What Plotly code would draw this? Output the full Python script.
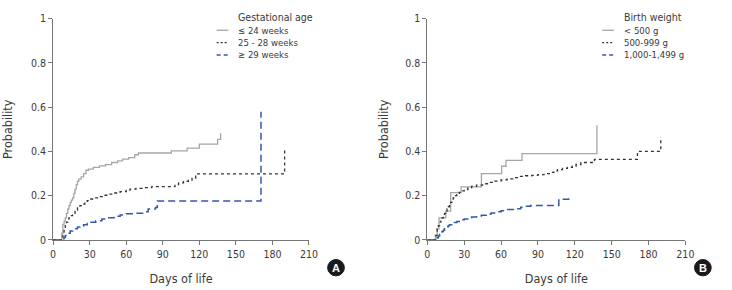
import plotly.graph_objects as go

# ---------------- Data ----------------
# Panel A: Gestational age
ga_le24_days = [0, 7, 8, 9, 10, 11, 12, 13, 14, 15, 16, 17, 18, 19, 20, 21, 23, 25, 27, 29,
                33, 38, 43, 48, 53, 57, 62, 67, 70, 97, 110, 120, 135, 137.5]
ga_le24_prob = [0, 0.03, 0.07, 0.085, 0.10, 0.12, 0.14, 0.155, 0.17, 0.18, 0.19, 0.21, 0.23, 0.25,
                0.265, 0.275, 0.285, 0.30, 0.315, 0.32, 0.328, 0.335, 0.34, 0.35, 0.357, 0.365,
                0.372, 0.385, 0.393, 0.403, 0.415, 0.433, 0.455, 0.482]

ga_25_28_days = [0, 7, 8, 9, 10, 11, 12, 13, 14, 16, 18, 20, 22, 24, 26, 28, 31, 34, 38, 42, 46,
                 50, 55, 60, 63, 68, 75, 81, 100, 103, 107, 111, 114, 117, 190]
ga_25_28_prob = [0, 0.01, 0.03, 0.05, 0.07, 0.08, 0.09, 0.10, 0.11, 0.12, 0.135, 0.145, 0.155,
                 0.162, 0.17, 0.178, 0.185, 0.19, 0.196, 0.202, 0.207, 0.212, 0.218, 0.224, 0.23,
                 0.233, 0.236, 0.241, 0.25, 0.258, 0.265, 0.27, 0.278, 0.299, 0.415]

ga_ge29_days = [0, 8, 9, 10, 12, 14, 16, 18, 20, 22, 25, 28, 31, 35, 40, 45, 50, 55, 60, 67, 75,
                78, 84, 85.5, 170.6]
ga_ge29_prob = [0, 0.005, 0.012, 0.02, 0.03, 0.04, 0.045, 0.05, 0.058, 0.063, 0.068, 0.074, 0.08,
                0.087, 0.094, 0.1, 0.107, 0.113, 0.118, 0.121, 0.127, 0.14, 0.147, 0.176, 0.58]

# Panel B: Birth weight
bw_lt500_days = [0, 6.5, 8, 9.5, 15, 19, 27.5, 44, 60.5, 64, 77, 138]
bw_lt500_prob = [0, 0.02, 0.05, 0.10, 0.13, 0.214, 0.24, 0.30, 0.333, 0.36, 0.39, 0.518]

bw_500_999_days = [0, 7, 8, 9, 10, 11, 12, 13, 14, 15, 16, 17, 18, 19, 20, 21, 22, 23, 24, 25, 26,
                   28, 30, 33, 36, 40, 45, 50, 55, 60, 65, 70, 75, 80, 85, 90, 95, 100, 103, 106,
                   110, 114, 118, 121, 125, 136, 171, 190]
bw_500_999_prob = [0, 0.02, 0.05, 0.065, 0.08, 0.09, 0.10, 0.11, 0.12, 0.13, 0.14, 0.15, 0.16,
                   0.17, 0.18, 0.19, 0.195, 0.2, 0.205, 0.21, 0.215, 0.222, 0.228, 0.235, 0.242,
                   0.248, 0.254, 0.26, 0.266, 0.271, 0.276, 0.282, 0.287, 0.29, 0.292, 0.295, 0.3,
                   0.305, 0.312, 0.318, 0.323, 0.328, 0.333, 0.341, 0.35, 0.364, 0.40, 0.465]

bw_1000_1499_days = [0, 7, 8, 9, 10, 11, 12, 13, 14, 15, 16, 17, 18, 20, 22, 24, 26, 28, 30, 33,
                     36, 40, 44, 48, 52, 56, 60, 64, 70, 76, 80, 84, 107, 115]
bw_1000_1499_prob = [0, 0.005, 0.01, 0.018, 0.025, 0.032, 0.038, 0.044, 0.05, 0.055, 0.06, 0.064,
                     0.068, 0.074, 0.079, 0.083, 0.087, 0.091, 0.095, 0.1, 0.104, 0.108, 0.112,
                     0.117, 0.122, 0.127, 0.132, 0.137, 0.141, 0.148, 0.152, 0.156, 0.184, 0.205]

legend_a_title = "Gestational age"
legend_a_labels = ["≤ 24 weeks", "25 - 28 weeks", "≥ 29 weeks"]
legend_b_title = "Birth weight"
legend_b_labels = ["< 500 g", "500-999 g", "1,000-1,499 g"]

x_ticks = [0, 30, 60, 90, 120, 150, 180, 210]
y_ticks = [0, 0.2, 0.4, 0.6, 0.8, 1]
y_tick_text = ["0", "0.2", "0.4", "0.6", "0.8", "1"]

# ---------------- Styles ----------------
W, H = 732, 290
FONT = "DejaVu Sans Condensed, Roboto, Arial, sans-serif"
TXT = "#3a3a3a"
AX = "#777777"
styles = [
    dict(color="#a6a6a6", width=1.3, dash="solid"),
    dict(color="#333333", width=1.3, dash="3px,3px"),
    dict(color="#3558a8", width=1.5, dash="7px,4px"),
]

fig = go.Figure()

panel_a = [(ga_le24_days, ga_le24_prob), (ga_25_28_days, ga_25_28_prob), (ga_ge29_days, ga_ge29_prob)]
panel_b = [(bw_lt500_days, bw_lt500_prob), (bw_500_999_days, bw_500_999_prob),
           (bw_1000_1499_days, bw_1000_1499_prob)]

for (d, p), st, name in zip(panel_a, styles, legend_a_labels):
    fig.add_trace(go.Scatter(x=d, y=p, mode="lines", line=dict(shape="hv", **st), name=name,
                             xaxis="x", yaxis="y", showlegend=False))
for (d, p), st, name in zip(panel_b, styles, legend_b_labels):
    fig.add_trace(go.Scatter(x=d, y=p, mode="lines", line=dict(shape="hv", **st), name=name,
                             xaxis="x2", yaxis="y2", showlegend=False))

def px_x(v):
    return v / W

def px_y(v):
    return 1 - v / H

ydom = [px_y(244), px_y(13.3)]
TICKF = dict(size=10.5, color=TXT, family=FONT)
TITLEF = dict(size=12.5, color=TXT, family=FONT)
xa = dict(range=[0, 210], tickvals=x_ticks, showline=True, linecolor=AX, linewidth=1,
          ticks="outside", ticklen=4, tickcolor=AX, showgrid=False, zeroline=False,
          tickfont=TICKF, title=dict(text="Days of life", font=TITLEF, standoff=15))
ya = dict(range=[0, 1], tickvals=y_ticks, ticktext=y_tick_text, showline=True, linecolor=AX,
          linewidth=1, ticks="outside", ticklen=4, tickcolor=AX, showgrid=False, zeroline=False,
          tickfont=TICKF, domain=ydom)

fig.update_layout(
    width=W, height=H, margin=dict(l=0, r=0, t=0, b=0),
    paper_bgcolor="white", plot_bgcolor="white",
    font=dict(family=FONT, color=TXT),
    xaxis=dict(xa, domain=[px_x(50), px_x(310.5)], anchor="y"),
    yaxis=dict(ya, anchor="x", title=dict(text="Probability", font=TITLEF, standoff=22)),
    xaxis2=dict(xa, domain=[px_x(431), px_x(693.7)], anchor="y2"),
    yaxis2=dict(ya, anchor="x2", title=dict(text="Probability", font=TITLEF, standoff=13)),
)

# Manual legends (line samples + text)
shapes = []
annos = []
row_y = [25.3, 38.3, 51.0]
for (lx0, tx, title, labels) in [(216.5, 236.5, legend_a_title, legend_a_labels),
                                 (609.0, 629.5, legend_b_title, legend_b_labels)]:
    annos.append(dict(x=px_x(tx), y=px_y(11), xref="paper", yref="paper", text=title,
                      showarrow=False, xanchor="left", yanchor="middle",
                      font=dict(size=10.5, color=TXT, family=FONT)))
    for ry, lab, st in zip(row_y, labels, styles):
        shapes.append(dict(type="line", xref="paper", yref="paper",
                           x0=px_x(lx0), x1=px_x(lx0 + 12), y0=px_y(ry), y1=px_y(ry),
                           line=dict(color=st["color"], width=st["width"],
                                     dash="solid" if st["dash"] == "solid" else
                                     ("2px,2px" if st["dash"].startswith("3") else "4px,3px"))))
        annos.append(dict(x=px_x(tx), y=px_y(ry), xref="paper", yref="paper", text=lab,
                          showarrow=False, xanchor="left", yanchor="middle",
                          font=dict(size=9.5, color=TXT, family=FONT)))

# Panel badges
for cx, lab in [(338, "A"), (711.5, "B")]:
    r = 8.5
    shapes.append(dict(type="circle", xref="paper", yref="paper",
                       x0=px_x(cx - r), x1=px_x(cx + r), y0=px_y(273 + r), y1=px_y(273 - r),
                       fillcolor="#1a1a1a", line=dict(color="#1a1a1a", width=1)))
    annos.append(dict(x=px_x(cx), y=px_y(273), xref="paper", yref="paper", text="<b>%s</b>" % lab,
                      showarrow=False, xanchor="center", yanchor="middle",
                      font=dict(size=11, color="white", family="Arial, Liberation Sans, sans-serif")))

fig.update_layout(shapes=shapes, annotations=annos)
fig.write_html("out.html")
